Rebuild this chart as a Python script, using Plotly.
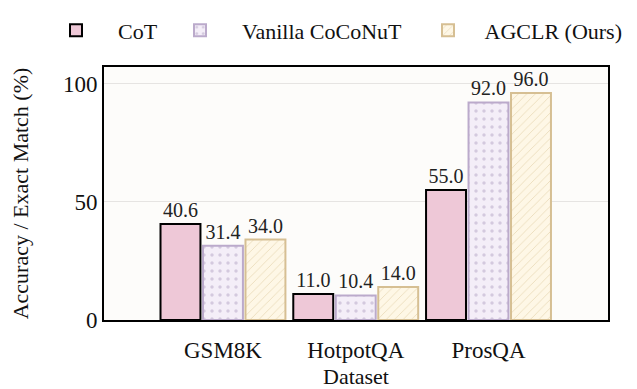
import plotly.graph_objects as go

datasets = ["GSM8K", "HotpotQA", "ProsQA"]
cot = [40.6, 11.0, 55.0]
vanilla = [31.4, 10.4, 92.0]
agclr = [34.0, 14.0, 96.0]
series_names = ["CoT", "Vanilla CoCoNuT", "AGCLR (Ours)"]

SERIF = "Liberation Serif"
LBL = dict(family=SERIF, size=20, color="#222")
PAD = "\u00a0\u00a0\u00a0\u00a0"
PAD3 = "\u00a0\u00a0\u00a0"

fig = go.Figure()
fig.add_trace(go.Bar(
    x=datasets, y=cot, name=PAD + series_names[0], legend="legend",
    marker=dict(color="#EEC8D7", line=dict(color="#000000", width=2)),
    text=[f"{v:.1f}" for v in cot], textposition="outside",
    textfont=LBL, cliponaxis=False,
))
fig.add_trace(go.Bar(
    x=datasets, y=vanilla, name=PAD + series_names[1], legend="legend2",
    marker=dict(color="#F4EEF8", line=dict(color="#BBAACB", width=2),
                pattern=dict(shape=".", fgcolor="#B3A3C4", bgcolor="#F4EEF8",
                             size=8, solidity=0.15, fillmode="overlay")),
    text=[f"{v:.1f}" for v in vanilla], textposition="outside",
    textfont=LBL, cliponaxis=False,
))
fig.add_trace(go.Bar(
    x=datasets, y=agclr, name=PAD3 + series_names[2], legend="legend3",
    marker=dict(color="#FEF7E6", line=dict(color="#D6BF93", width=2),
                pattern=dict(shape="/", fgcolor="#D9C293", bgcolor="#FEF7E6",
                             size=6, solidity=0.15, fillmode="overlay")),
    text=[f"{v:.1f}" for v in agclr], textposition="outside",
    textfont=LBL, cliponaxis=False,
))


def leg(px, anchor="left"):
    return dict(orientation="h", x=px / 637, y=1 - 22.5 / 389, xref="container", yref="container",
                xanchor=anchor, yanchor="middle", font=dict(family=SERIF, size=22),
                itemwidth=30, bgcolor="rgba(0,0,0,0)")


fig.update_layout(
    width=637, height=389,
    margin=dict(l=96, r=37, t=59, b=77, autoexpand=False),
    paper_bgcolor="white",
    plot_bgcolor="#FDFCFA",
    barmode="group",
    bargap=0.04,
    bargroupgap=0.06,
    font=dict(family=SERIF, size=22, color="#111"),
    legend=leg(48), legend2=leg(172), legend3=leg(420),
    showlegend=True,
)
fig.update_traces(constraintext="none")
fig.update_xaxes(
    range=[-0.896, 2.90], automargin=False,
    title=dict(text="Dataset", font=dict(family=SERIF, size=22), standoff=7),
    showline=True, linecolor="#000", linewidth=2, mirror=True,
    ticks="", ticklabelstandoff=8, showgrid=False, tickfont=dict(family=SERIF, size=23),
)
fig.update_yaxes(
    range=[0, 107], automargin=False,
    tickvals=[0, 50, 100],
    title=dict(text="Accuracy / Exact Match (%)", font=dict(family=SERIF, size=22), standoff=30),
    showline=True, linecolor="#000", linewidth=2, mirror=True,
    ticks="", showgrid=True, gridcolor="#E6E4E2", gridwidth=1,
    zeroline=False, tickfont=dict(family=SERIF, size=23),
)

fig.write_html("out.html")
